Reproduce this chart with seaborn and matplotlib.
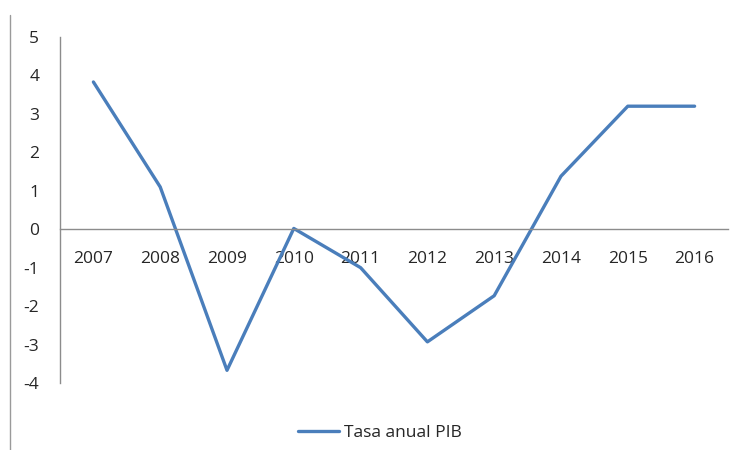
import matplotlib
matplotlib.use("Agg")
import matplotlib.pyplot as plt
import seaborn as sns
import pandas as pd
from matplotlib.lines import Line2D

years = ["2007", "2008", "2009", "2010", "2011", "2012", "2013", "2014", "2015", "2016"]
tasa = [3.83, 1.1, -3.67, 0.02, -1.0, -2.93, -1.73, 1.38, 3.2, 3.2]
series_name = "Tasa anual PIB"
yticks = [-4, -3, -2, -1, 0, 1, 2, 3, 4, 5]

sns.set_theme(style="white")
plt.rcParams['font.family'] = ['Open Sans', 'DejaVu Sans']

df = pd.DataFrame({"Año": years, "Valor": tasa, "Serie": series_name})

fig = plt.figure(figsize=(7.39, 4.5), dpi=100)
ax = fig.add_axes([60/739, 1-383/450, (728-60)/739, (383-37)/450])

sns.lineplot(data=df, x="Año", y="Valor", hue="Serie", palette=["#4a7ebb"],
             linewidth=2.4, ax=ax, sort=False)

ax.set_xlim(-0.5, len(years) - 0.5)
ax.set_ylim(-4, 5)
ax.set_yticks(yticks)
ax.set_yticklabels([str(v) for v in yticks])
ax.set_xlabel("")
ax.set_ylabel("")

for s in ["top", "right"]:
    ax.spines[s].set_visible(False)
ax.spines["bottom"].set_position(("data", 0))
ax.spines["bottom"].set_color("#8c8c8c")
ax.spines["left"].set_color("#8c8c8c")
ax.spines["bottom"].set_linewidth(1)
ax.spines["left"].set_linewidth(1)
ax.tick_params(axis="x", length=0, pad=16, labelsize=12.5, labelcolor="#262626")
ax.tick_params(axis="y", length=0, pad=15, labelsize=12.5, labelcolor="#262626")

leg = ax.legend(loc="upper center", bbox_to_anchor=(0.5 + (380 - 394)/668, -0.075), frameon=False,
                fontsize=12.5, handlelength=2.4, handletextpad=0.3)
for t in leg.get_texts():
    t.set_color("#262626")

fig.add_artist(Line2D([10/739, 10/739], [0, 1-15/450], color="#9a9a9a", linewidth=1,
                      transform=fig.transFigure))

fig.savefig("out.png", dpi=100)
